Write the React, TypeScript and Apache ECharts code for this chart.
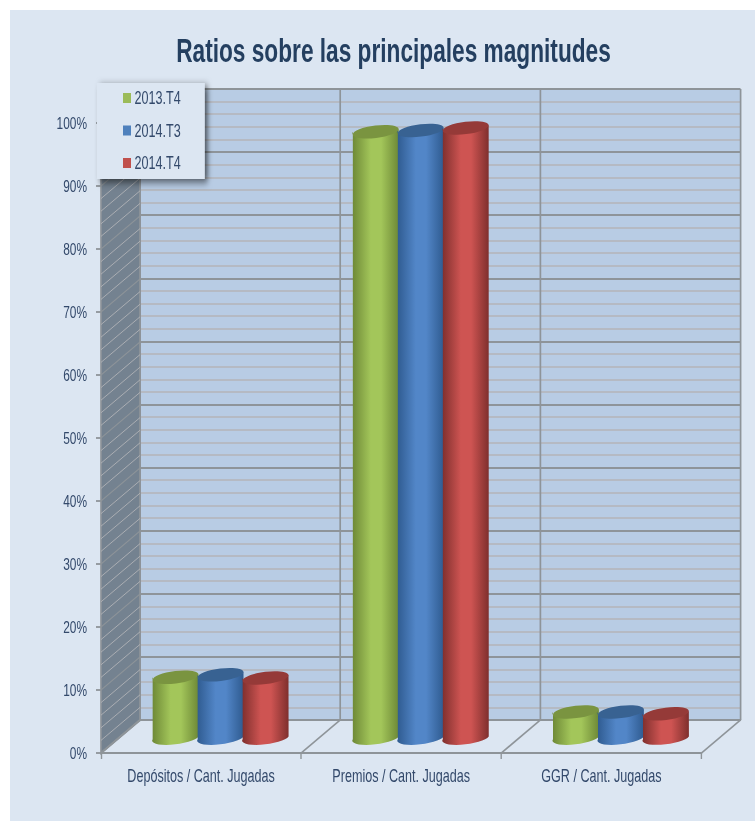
import React, { useEffect, useRef } from "react";
import * as echarts from "echarts";

const titleText = "Ratios sobre las principales magnitudes";
const categories = ["Depósitos / Cant. Jugadas", "Premios / Cant. Jugadas", "GGR / Cant. Jugadas"];
const seriesNames = ["2013.T4", "2014.T3", "2014.T4"];
const values2013T4 = [9.4, 96.0, 3.9];
const values2014T3 = [9.8, 96.2, 3.9];
const values2014T4 = [9.3, 96.6, 3.6];
const hatchTicks = [0, 2, 4, 6, 8, 10, 12, 14, 16, 18, 20, 22, 24, 26, 28, 30, 32, 34, 36, 38, 40, 42, 44, 46, 48, 50, 52, 54, 56, 58, 60, 62, 64, 66, 68, 70, 72, 74, 76, 78, 80, 82, 84, 86, 88, 90, 92, 94, 96, 98, 100];
const categoryEdges = [0, 1, 2, 3];

// The reference's type is horizontally condensed; the whole chart is drawn wider and squeezed by K.
const K = 0.7;
const sx = (x: number) => x / K;

const FONT = "'Liberation Sans', Arial, sans-serif";
const TEXT = "#33496b";
const GRID_MAJOR = "#8e9499";
const GRID_MINOR = "#b4b5b8";
const DX = sx(39);
const DY = -33;
const RX = sx(23);
const RY = 6.2;
const ROT_DEG = 4.9;
const ROT = (ROT_DEG * Math.PI) / 180;

const palettes = [
  { side: "#6d8836", mid: "#a3c65a", top: "#7a9440", key: "#9bbb59" },
  { side: "#2f5b90", mid: "#5286c8", top: "#386292", key: "#4f81bd" },
  { side: "#7f2f2d", mid: "#ce5452", top: "#953a38", key: "#c0504d" },
];

function cylinderRenderer(seriesIdx: number) {
  return (_params: any, api: any) => {
    const p = api.coord([api.value(0), api.value(1)]);
    const base = api.coord([api.value(0), 0]);
    const cx = p[0] + DX / 2 + (seriesIdx - 1) * sx(45);
    const topY = p[1] + DY / 2;
    const botY = base[1] + DY / 2;
    const ax = RX * Math.cos(ROT);
    const ay = RX * Math.sin(ROT);
    const d =
      `M${cx - ax} ${topY + ay} L${cx - ax} ${botY + ay} ` +
      `A${RX} ${RY} ${-ROT_DEG} 0 0 ${cx + ax} ${botY - ay} ` +
      `L${cx + ax} ${topY - ay} ` +
      `A${RX} ${RY} ${-ROT_DEG} 0 1 ${cx - ax} ${topY + ay} Z`;
    const c = palettes[seriesIdx];
    return {
      type: "group",
      children: [
        {
          type: "path",
          shape: { pathData: d, layout: "none" },
          style: {
            fill: {
              type: "linear", x: 0, y: 0, x2: 1, y2: 0,
              colorStops: [
                { offset: 0, color: c.side },
                { offset: 0.4, color: c.mid },
                { offset: 0.62, color: c.mid },
                { offset: 1, color: c.side },
              ],
            },
          },
        },
        {
          type: "ellipse",
          x: cx,
          y: topY,
          rotation: ROT,
          shape: { cx: 0, cy: 0, rx: RX, ry: RY },
          style: { fill: c.top },
        },
      ],
    };
  };
}

function sideWallRenderer(params: any, api: any) {
  const cs = params.coordSys;
  const v = api.value(1);
  const y = api.coord([0, v])[1];
  const children: any[] = [];
  if (params.dataIndex === 0) {
    children.push({
      type: "polygon",
      shape: { points: [[cs.x, cs.y + cs.height], [cs.x + DX, cs.y + cs.height + DY], [cs.x + DX, cs.y + DY], [cs.x, cs.y]] },
      style: { fill: "#748290", stroke: GRID_MAJOR, lineWidth: 2.4 },
    });
  }
  const major = v % 10 === 0;
  children.push({
    type: "line",
    shape: { x1: cs.x, y1: y, x2: cs.x + DX, y2: y + DY },
    style: { stroke: major ? GRID_MAJOR : GRID_MINOR, lineWidth: major ? 1.3 : 1 },
  });
  return { type: "group", children };
}

function floorRenderer(params: any, api: any) {
  const cs = params.coordSys;
  const x = cs.x + (api.value(0) * cs.width) / 3;
  const y = cs.y + cs.height;
  return {
    type: "line",
    shape: { x1: x, y1: y, x2: x + DX, y2: y + DY },
    style: { stroke: GRID_MAJOR, lineWidth: 2 },
  };
}

export default function App() {
  const ref = useRef<HTMLDivElement>(null);
  useEffect(() => {
    const chart = echarts.init(ref.current!, null, { renderer: "svg" });
    const allValues = [values2013T4, values2014T3, values2014T4];
    chart.setOption({
      animation: false,
      backgroundColor: "transparent",
      title: {
        text: titleText,
        left: sx(390),
        top: 30,
        textAlign: "center",
        textStyle: { fontFamily: FONT, fontSize: 32.4, fontWeight: "bold", color: "#243f60" },
      },
      legend: {
        show: true,
        data: seriesNames,
        orient: "vertical",
        left: sx(97),
        top: 83,
        padding: [6, sx(24), 7, sx(26)],
        itemWidth: sx(8),
        itemHeight: 10,
        itemGap: 14.5,
        icon: "rect",
        selectedMode: false,
        z: 20,
        backgroundColor: "#dce6f2",
        shadowBlur: 8,
        shadowColor: "rgba(0,0,0,0.6)",
        shadowOffsetX: 4,
        shadowOffsetY: 3,
        textStyle: { fontFamily: FONT, fontSize: 18, color: TEXT },
      },
      grid: [
        { left: sx(101), top: 123, width: sx(600.5), height: 630 },
        {
          left: sx(139.5), top: 89, width: sx(601), height: 631,
          show: true, backgroundColor: "#b8cce4", borderWidth: 0, z: 0,
        },
      ],
      xAxis: [
        {
          type: "category", gridIndex: 0, data: categories,
          axisLine: { lineStyle: { color: GRID_MAJOR, width: 2 } },
          axisTick: { show: true, alignWithLabel: false, length: 6, lineStyle: { color: GRID_MAJOR, width: 2 } },
          axisLabel: { fontFamily: FONT, fontSize: 18, color: TEXT, margin: 14, interval: 0 },
          splitLine: { show: false },
        },
        {
          type: "category", gridIndex: 1, data: categories,
          axisLine: { show: true, lineStyle: { color: GRID_MAJOR, width: 2 } },
          axisTick: { show: false },
          axisLabel: { show: false },
          splitLine: { show: true, interval: 0, lineStyle: { color: GRID_MAJOR, width: 2.4 } },
        },
      ],
      yAxis: [
        {
          type: "value", gridIndex: 0, min: 0, max: 100, interval: 10,
          axisLine: { show: false },
          axisTick: { show: true, length: sx(5), lineStyle: { color: GRID_MAJOR, width: 1.8 } },
          axisLabel: { fontFamily: FONT, fontSize: 17, color: TEXT, margin: sx(14), formatter: "{value}%" },
          splitLine: { show: false },
        },
        {
          type: "value", gridIndex: 1, min: 0, max: 100, interval: 10,
          axisLine: { show: true, lineStyle: { color: GRID_MAJOR, width: 2.4 } },
          axisTick: { show: false },
          axisLabel: { show: false },
          minorTick: { show: false, splitNumber: 5 },
          splitLine: { show: true, lineStyle: { color: GRID_MAJOR, width: 1.8 } },
          minorSplitLine: { show: true, lineStyle: { color: GRID_MINOR, width: 1.6 } },
        },
      ],
      series: [
        {
          type: "custom", name: "sideWall", xAxisIndex: 0, yAxisIndex: 0, z: 1, silent: true,
          data: hatchTicks.map((v) => [0, v]), encode: { x: 0, y: 1 },
          renderItem: sideWallRenderer, clip: false,
        },
        {
          type: "custom", name: "floor", xAxisIndex: 0, yAxisIndex: 0, z: 1, silent: true,
          data: categoryEdges.map((e) => [e, 0]), encode: { y: 1 },
          renderItem: floorRenderer, clip: false,
        },
        ...seriesNames.map((name, i) => ({
          type: "custom", name, xAxisIndex: 0, yAxisIndex: 0, z: 3 + i, silent: true,
          itemStyle: { color: palettes[i].key },
          data: allValues[i].map((v, j) => [j, v]),
          encode: { x: 0, y: 1 },
          renderItem: cylinderRenderer(i),
          clip: false,
        })),
      ],
    });
    return () => chart.dispose();
  }, []);
  return (
    <div style={{ position: "absolute", left: 0, top: 0, width: 755, height: 821, background: "#ffffff", overflow: "hidden" }}>
      <div style={{ position: "absolute", left: 10, top: 10, width: 745, height: 811, background: "#dce6f2" }} />
      <div
        ref={ref}
        style={{ position: "absolute", left: 0, top: 0, width: 755 / K, height: 821, transform: `scaleX(${K})`, transformOrigin: "0 0" }}
      />
    </div>
  );
}
